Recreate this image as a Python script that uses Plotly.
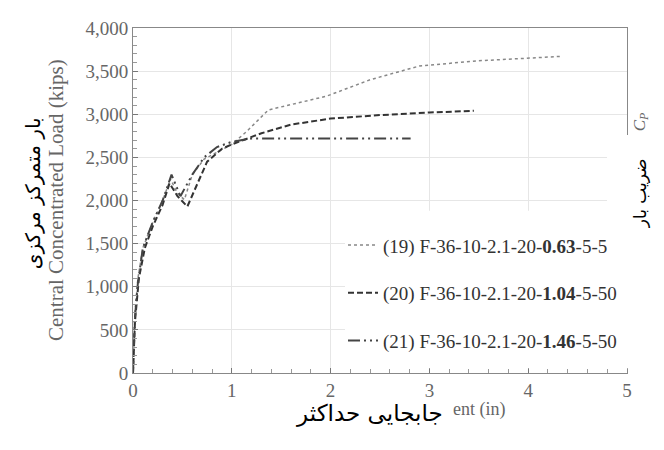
import plotly.graph_objects as go

# Data
x19 = [0, 0.02, 0.05, 0.1, 0.2, 0.3, 0.38, 0.45, 0.52, 0.6, 0.72, 0.85, 1.0, 1.15, 1.37, 1.96, 2.4, 2.9, 3.5, 4.32]
y19 = [0, 700, 1100, 1450, 1750, 2000, 2250, 2080, 2010, 2300, 2480, 2560, 2650, 2800, 3050, 3210, 3400, 3560, 3620, 3670]
x20 = [0, 0.02, 0.06, 0.12, 0.2, 0.3, 0.37, 0.45, 0.55, 0.65, 0.75, 0.9, 1.0, 1.3, 1.6, 2.0, 2.5, 3.0, 3.45]
y20 = [0, 600, 1100, 1450, 1700, 1950, 2200, 2050, 1930, 2200, 2450, 2600, 2650, 2780, 2880, 2950, 2990, 3020, 3040]
x21 = [0, 0.02, 0.05, 0.1, 0.2, 0.3, 0.39, 0.48, 0.6, 0.72, 0.85, 1.0, 1.2, 2.0, 2.81]
y21 = [0, 650, 1050, 1450, 1750, 2000, 2300, 2050, 2300, 2500, 2620, 2680, 2720, 2720, 2720]

names = [
    "(19) F-36-10-2.1-20-<b>0.63</b>-5-5",
    "(20) F-36-10-2.1-20-<b>1.04</b>-5-50",
    "(21) F-36-10-2.1-20-<b>1.46</b>-5-50",
]
x_ticks = [0, 1, 2, 3, 4, 5]
y_ticks = [0, 500, 1000, 1500, 2000, 2500, 3000, 3500, 4000]

serif = "Liberation Serif, Times New Roman, serif"
farsi = "DejaVu Sans, sans-serif"
gray = "#666666"

fig = go.Figure()
fig.add_trace(go.Scatter(x=x19, y=y19, mode="lines", name=names[0], legendgroup="a",
                         line=dict(color="#888888", width=1.5, dash="dot")))
fig.add_trace(go.Scatter(x=x20, y=y20, mode="lines", name=names[1], legendgroup="b",
                         line=dict(color="#333333", width=2, dash="6px,3px")))
fig.add_trace(go.Scatter(x=x21, y=y21, mode="lines", name=names[2], legendgroup="c",
                         line=dict(color="#444444", width=2, dash="12px,4px,2px,4px,2px,4px")))

OFF = 8  # page body margin
W, H = 664 - OFF, 450 - OFF
L, R, T, B = 133 - OFF, 37, 18 - OFF, 77
pw, ph = W - L - R, H - T - B

def px_x(p):
    return (p - OFF - L) / pw

def px_y(p):
    return (H - B - (p - OFF)) / ph

fig.update_layout(
    width=W, height=H,
    margin=dict(l=L, r=R, t=T, b=B),
    paper_bgcolor="white", plot_bgcolor="white",
    showlegend=True,
    legend=dict(x=px_x(343), y=px_y(222), xanchor="left", yanchor="top",
                bgcolor="rgba(0,0,0,0)", font=dict(family=serif, size=19, color="#333333"),
                traceorder="grouped", tracegroupgap=20, itemwidth=30),
    xaxis=dict(range=[0, 5], tickvals=x_ticks, ticks="inside", ticklen=5, tickcolor="#777",
               showgrid=True, gridcolor="#e6e6e6", zeroline=False,
               showline=True, linecolor="#888888", linewidth=1, mirror=True,
               tickfont=dict(family=serif, size=19, color=gray), ticklabeloverflow="allow",
               minor=dict(dtick=0.2, ticks="inside", ticklen=4, tickcolor="#999", showgrid=False)),
    yaxis=dict(range=[0, 4000], tickvals=y_ticks, tickformat=",", ticks="inside", ticklen=5, tickcolor="#777",
               showgrid=True, gridcolor="#e6e6e6", zeroline=False,
               showline=True, linecolor="#888888", linewidth=1, mirror=True,
               tickfont=dict(family=serif, size=19, color=gray), ticklabeloverflow="allow",
               minor=dict(dtick=100, ticks="inside", ticklen=4, tickcolor="#999", showgrid=False)),
)

# white patches (as in the reference)
fig.add_shape(type="rect", xref="paper", yref="paper", x0=px_x(345), x1=px_x(629), y0=px_y(368), y1=px_y(206),
              fillcolor="white", line=dict(width=0), layer="above")
fig.add_shape(type="rect", xref="paper", yref="paper", x0=px_x(607), x1=px_x(664), y0=px_y(288), y1=px_y(128),
              fillcolor="white", line=dict(width=0), layer="above")

ann = [
    dict(x=px_x(56), y=px_y(195), text="Central Concentrated Load (kips)", textangle=-90,
         font=dict(family=serif, size=21, color=gray)),
    dict(x=px_x(33), y=px_y(188), text="بار متمرکز مرکزی", textangle=-90,
         font=dict(family=farsi, size=20, color="black")),
    dict(x=px_x(479), y=px_y(411), text="ent (in)",
         font=dict(family=serif, size=18, color=gray)),
    dict(x=px_x(369), y=px_y(415), text="جابجایی حداکثر",
         font=dict(family=farsi, size=23, color="black")),
    dict(x=px_x(641), y=px_y(115), text="<i>C<sub>P</sub></i>", textangle=-90,
         font=dict(family=serif, size=17, color=gray)),
    dict(x=px_x(640), y=px_y(188), text="ضریب بار", textangle=-90,
         font=dict(family=farsi, size=17, color="black")),
]
for a in ann:
    a.update(xref="paper", yref="paper", showarrow=False, xanchor="center", yanchor="middle")
    fig.add_annotation(**a)

fig.write_html("out.html")
